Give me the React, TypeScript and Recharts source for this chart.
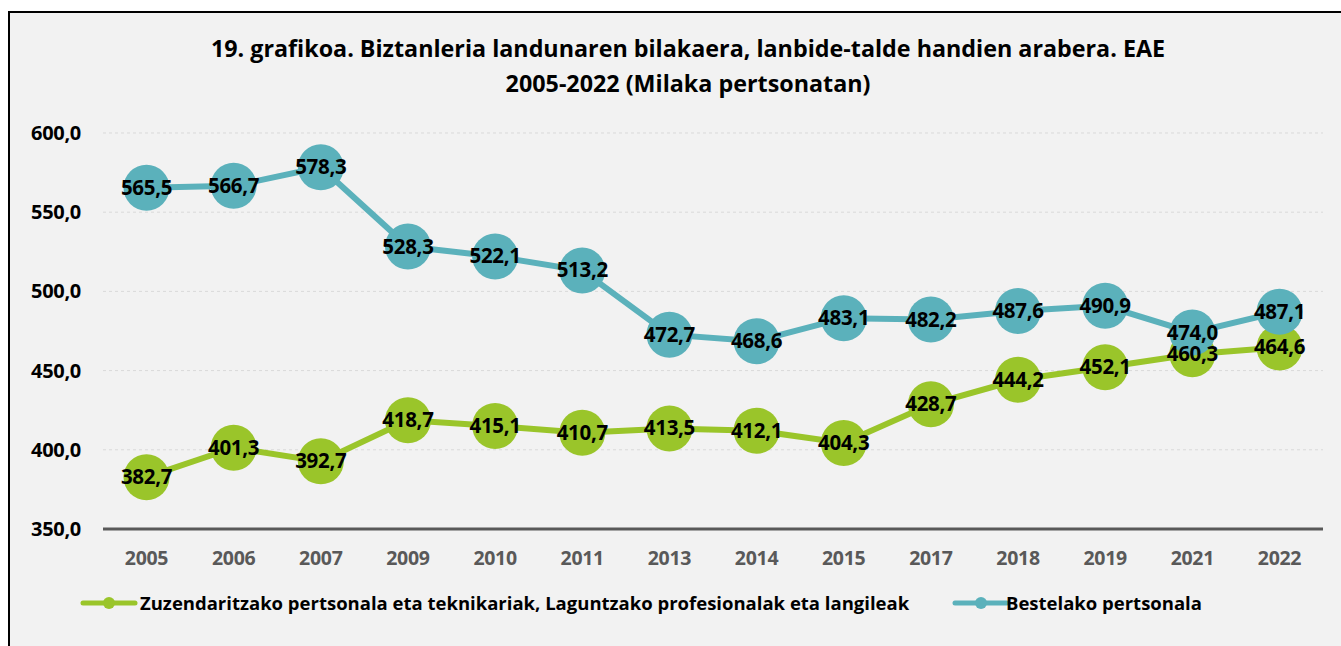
import React from 'react';
import { LineChart, Line, XAxis, YAxis, CartesianGrid, LabelList } from 'recharts';

const years = ['2005', '2006', '2007', '2009', '2010', '2011', '2013', '2014', '2015', '2017', '2018', '2019', '2021', '2022'];
const zuzendaritza = [382.7, 401.3, 392.7, 418.7, 415.1, 410.7, 413.5, 412.1, 404.3, 428.7, 444.2, 452.1, 460.3, 464.6];
const bestelako = [565.5, 566.7, 578.3, 528.3, 522.1, 513.2, 472.7, 468.6, 483.1, 482.2, 487.6, 490.9, 474.0, 487.1];
const yTicks = [350, 400, 450, 500, 550, 600];

const seriesNames = {
  green: 'Zuzendaritzako pertsonala eta teknikariak, Laguntzako profesionalak eta langileak',
  teal: 'Bestelako pertsonala',
};

const GREEN = '#9ac52a';
const TEAL = '#5bb1bb';
const FONT = '"Open Sans", Lato, sans-serif';

const data = years.map((y, i) => ({ year: y, green: zuzendaritza[i], teal: bestelako[i] }));

const fmt = (v: number) => v.toFixed(1).replace('.', ',');

const ValueLabel = (props: any) => {
  const { x, y, value } = props;
  return (
    <text x={x} y={y} dy={7} textAnchor="middle" fontFamily={FONT} fontWeight={700} fontSize={20.5} fill="#000" letterSpacing={-0.3}>
      {fmt(value)}
    </text>
  );
};

const YTick = (props: any) => {
  const { y, payload } = props;
  return (
    <text x={81} y={y} dy={7} textAnchor="end" fontFamily={FONT} fontWeight={700} fontSize={20} fill="#000" letterSpacing={-0.3}>
      {fmt(payload.value)}
    </text>
  );
};

const XTick = (props: any) => {
  const { x, y, payload } = props;
  return (
    <text x={x} y={y} dy={8} textAnchor="middle" fontFamily={FONT} fontWeight={700} fontSize={19.5} fill="#595959" letterSpacing={-0.3}>
      {payload.value}
    </text>
  );
};

const LegendIcon = ({ color }: { color: string }) => (
  <svg width={58} height={14} style={{ display: 'block' }}>
    <line x1={3} y1={7} x2={55} y2={7} stroke={color} strokeWidth={5} strokeLinecap="round" />
    <circle cx={29} cy={7} r={6} fill={color} />
  </svg>
);

const App = () => {
  return (
    <div style={{ position: 'fixed', left: 0, top: 0, width: 1341, height: 646, background: '#fff', overflow: 'hidden' }}>
      <div
        style={{
          position: 'absolute',
          left: 8,
          top: 11,
          width: 1400,
          height: 700,
          border: '2px solid #000',
          background: '#f2f2f2',
        }}
      />
      <div
        style={{
          position: 'absolute',
          left: 0,
          top: 31,
          width: 1376,
          textAlign: 'center',
          fontFamily: FONT,
          fontWeight: 700,
          fontSize: 23.3,
          lineHeight: '35px',
          color: '#000',
        }}
      >
        19. grafikoa. Biztanleria landunaren bilakaera, lanbide-talde handien arabera. EAE
        <br />
        2005-2022 (Milaka pertsonatan)
      </div>
      <div style={{ position: 'absolute', left: 0, top: 0 }}>
        <LineChart width={1341} height={646} data={data} margin={{ top: 133, right: 18, bottom: 0, left: 0 }}>
          <CartesianGrid vertical={false} stroke="#d9d9d9" strokeDasharray="3 3" />
          <XAxis
            dataKey="year"
            axisLine={{ stroke: '#595959', strokeWidth: 3 }}
            tickLine={false}
            tick={<XTick />}
            tickMargin={22}
            height={117}
            interval={0}
            padding={{ left: 43.5, right: 43.5 }}
          />
          <YAxis
            domain={[350, 600]}
            ticks={yTicks}
            width={103}
            axisLine={false}
            tickLine={false}
            tick={<YTick />}
            interval={0}
          />
          <Line
            dataKey="green"
            name={seriesNames.green}
            stroke={GREEN}
            strokeWidth={6}
            dot={{ r: 23, fill: GREEN, stroke: GREEN, strokeWidth: 0 }}
            isAnimationActive={false}
          />
          <Line
            dataKey="teal"
            name={seriesNames.teal}
            stroke={TEAL}
            strokeWidth={6}
            dot={{ r: 23, fill: TEAL, stroke: TEAL, strokeWidth: 0 }}
            isAnimationActive={false}
          />
          <Line dataKey="green" stroke="none" dot={false} legendType="none" isAnimationActive={false}>
            <LabelList dataKey="green" content={<ValueLabel />} />
          </Line>
          <Line dataKey="teal" stroke="none" dot={false} legendType="none" isAnimationActive={false}>
            <LabelList dataKey="teal" content={<ValueLabel />} />
          </Line>
        </LineChart>
      </div>
      <div style={{ position: 'absolute', left: 0, top: 590, width: 1341, height: 30, fontFamily: FONT, fontWeight: 700, fontSize: 18.5, color: '#000' }}>
        <div style={{ position: 'absolute', left: 80, top: 0, display: 'flex', alignItems: 'center' }}>
          <LegendIcon color={GREEN} />
          <span style={{ marginLeft: 2 }}>{seriesNames.green}</span>
        </div>
        <div style={{ position: 'absolute', left: 952, top: 0, display: 'flex', alignItems: 'center' }}>
          <LegendIcon color={TEAL} />
          <span style={{ marginLeft: -4 }}>{seriesNames.teal}</span>
        </div>
      </div>
    </div>
  );
};

export default App;
